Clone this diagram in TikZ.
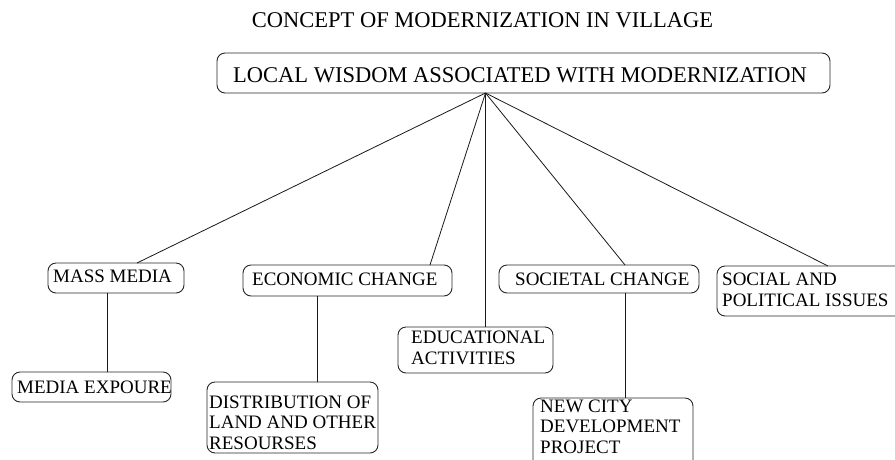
\documentclass[tikz,border=0pt]{standalone}
\usepackage{fontspec}
\setmainfont{Liberation Serif}
\begin{document}
\begin{tikzpicture}[x=1pt,y=-1pt,
  box/.style={draw=black!85, line width=0.9pt, rounded corners=8pt, inner sep=0pt, outer sep=0pt, anchor=north west},
  big/.style={font=\fontsize{22.5}{26}\selectfont, inner sep=0pt, anchor=base west},
  lbl/.style={font=\fontsize{19}{20.5}\selectfont, inner sep=0pt, anchor=base west, align=left},
  conn/.style={line width=0.8pt, draw=black!90}]
\clip (0,0) rectangle (895,459);
% title
\node[big, anchor=base] (title) at (482.5,27) {CONCEPT OF MODERNIZATION IN VILLAGE};
% top box
\node[box, minimum width=613pt, minimum height=40pt] (top) at (217,53) {};
\node[big] (toptext) at (233,82) {LOCAL WISDOM ASSOCIATED WITH MODERNIZATION};
\coordinate (hub) at (485.5,93);
% boxes
\node[box, minimum width=136pt, minimum height=30pt] (mm) at (48,263) {};
\node[box, minimum width=159pt, minimum height=30pt] (me) at (12,372) {};
\node[box, minimum width=209pt, minimum height=31pt] (ec) at (243,265) {};
\node[box, minimum width=171pt, minimum height=71pt] (di) at (207,382) {};
\node[box, minimum width=155pt, minimum height=46pt] (ed) at (398,327) {};
\node[box, minimum width=200pt, minimum height=28pt] (sc) at (499,265) {};
\node[box, minimum width=160pt, minimum height=72pt] (nc) at (533,398) {};
\node[box, minimum width=200pt, minimum height=50pt] (sp) at (717,266) {};
% texts (multi-line nodes: base = last line)
\node[lbl] (mmt) at (53,282) {MASS MEDIA};
\node[lbl] (met) at (17,393) {MEDIA EXPOURE};
\node[lbl] (ect) at (252,285) {ECONOMIC CHANGE};
\node[lbl] (dit) at (209,449) {DISTRIBUTION OF\\LAND AND OTHER\\RESOURSES};
\node[lbl] (edt) at (411,364) {EDUCATIONAL\\ACTIVITIES};
\node[lbl] (sct) at (515,285) {SOCIETAL CHANGE};
\node[lbl] (nct) at (540,453) {NEW CITY\\DEVELOPMENT\\PROJECT};
\node[lbl] (spt) at (722,306) {SOCIAL AND\\POLITICAL ISSUES};
% connectors
\draw[conn] (hub) -- ([xshift=89pt]mm.north west);
\draw[conn] (hub) -- ([xshift=187pt]ec.north west);
\draw[conn] (hub) -- ([xshift=87.5pt]ed.north west);
\draw[conn] (hub) -- ([xshift=126pt]sc.north west);
\draw[conn] (hub) -- ([xshift=111pt]sp.north west);
\draw[conn] ([xshift=59pt]mm.south west) -- ([xshift=59pt]mm.south west |- me.north);
\draw[conn] ([xshift=74pt]ec.south west) -- ([xshift=74pt]ec.south west |- di.north);
\draw[conn] ([xshift=126pt]sc.south west) -- ([xshift=126pt]sc.south west |- nc.north);
\end{tikzpicture}
\end{document}
